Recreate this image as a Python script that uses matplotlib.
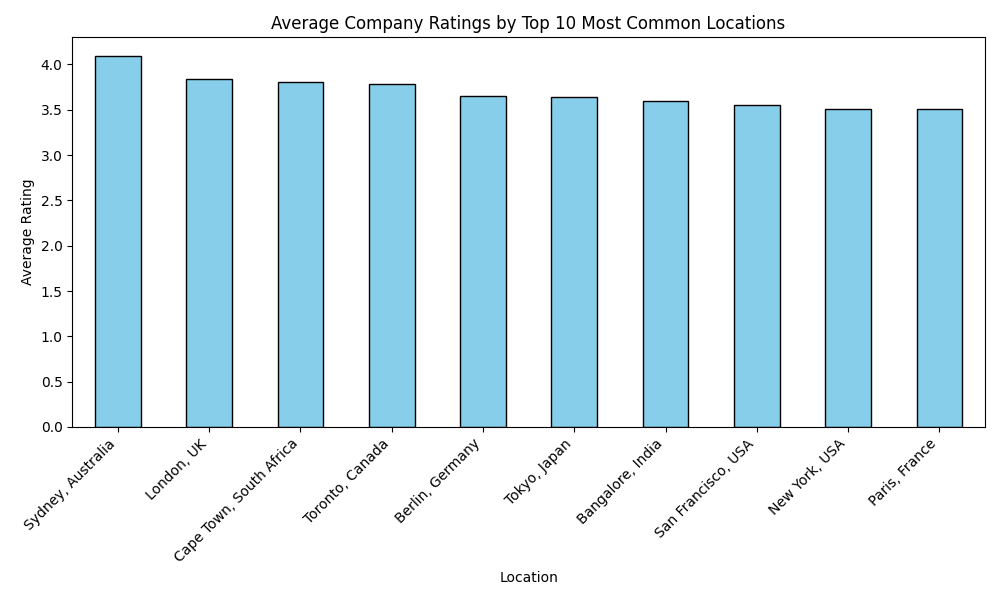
import matplotlib
matplotlib.use("Agg")
from matplotlib import pyplot as plt

# average rating per location (top 10 most common)
locations = ["Sydney, Australia", "London, UK", "Cape Town, South Africa",
             "Toronto, Canada", "Berlin, Germany", "Tokyo, Japan",
             "Bangalore, India", "San Francisco, USA", "New York, USA",
             "Paris, France"]
ratings = [4.095, 3.837, 3.812, 3.79, 3.657, 3.646, 3.60, 3.558, 3.513, 3.512]

fig, ax = plt.subplots(figsize=(10, 6))
ax.bar(range(len(locations)), ratings, width=0.5, color="skyblue", edgecolor="black")
ax.set_xticks(range(len(locations)))
ax.set_xticklabels(locations, rotation=45, ha="right")
ax.set_xlim(-0.5, len(locations) - 0.5)

ax.set_title("Average Company Ratings by Top 10 Most Common Locations")
ax.set_xlabel("Location")
ax.set_ylabel("Average Rating")

plt.tight_layout()
plt.savefig("out.png", dpi=100)
